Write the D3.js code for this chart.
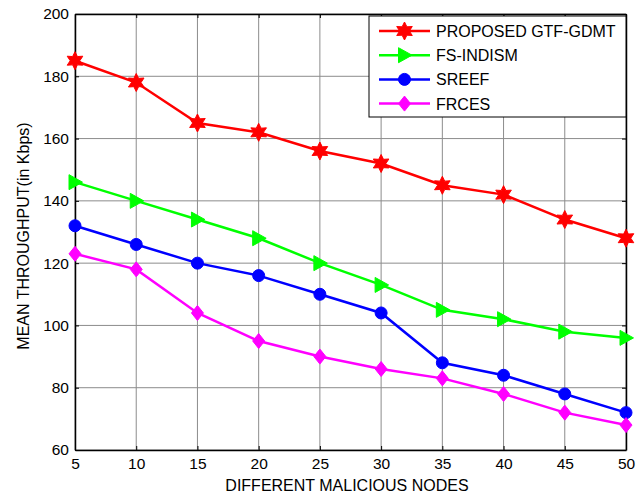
<!DOCTYPE html>
<html><head><meta charset="utf-8">
<script src="https://cdn.jsdelivr.net/npm/d3@7"></script>
<style>body{margin:0;background:#fff}svg{display:block;font-family:Arial,"Liberation Sans",sans-serif}</style>
</head><body><svg id="c" width="643" height="497"></svg>
<script>
const xValues = [5,10,15,20,25,30,35,40,45,50];
const seriesNames = ["PROPOSED GTF-GDMT","FS-INDISM","SREEF","FRCES"];
const proposed = [185,178,165,162,156,152,145,142,134,128];
const fsIndism = [146,140,134,128,120,113,105,102,98,96];
const sreef = [132,126,120,116,110,104,88,84,78,72];
const frces = [123,118,104,95,90,86,83,78,72,68];
const xTicks = [5,10,15,20,25,30,35,40,45,50];
const yTicks = [60,80,100,120,140,160,180,200];
const colors = ["#ff0000","#00ff00","#0000ff","#ff00ff"];
const markers = ["hexagram","triangleRight","circle","diamond"];
const allSeries = [proposed, fsIndism, sreef, frces];

const svg = d3.select("#c");
const L=75, R=626, T=14, B=450;
const x = d3.scaleLinear().domain([5,50]).range([L,R]);
const y = d3.scaleLinear().domain([60,200]).range([B,T]);

// grid
const g = svg.append("g");
g.selectAll(".gx").data(xTicks).enter().append("line")
 .attr("x1",d=>x(d)).attr("x2",d=>x(d)).attr("y1",T).attr("y2",B)
 .attr("stroke","#8c8c8c").attr("stroke-width",1);
g.selectAll(".gy").data(yTicks).enter().append("line")
 .attr("y1",d=>y(d)).attr("y2",d=>y(d)).attr("x1",L).attr("x2",R)
 .attr("stroke","#8c8c8c").attr("stroke-width",1);

// axes
const ax = d3.axisBottom(x).tickValues(xTicks).tickSizeInner(-4).tickSizeOuter(0).tickPadding(8);
const ay = d3.axisLeft(y).tickValues(yTicks).tickSizeInner(-4).tickSizeOuter(0).tickPadding(6);
const axT = d3.axisTop(x).tickValues(xTicks).tickSizeInner(-4).tickSizeOuter(0).tickFormat("");
const ayR = d3.axisRight(y).tickValues(yTicks).tickSizeInner(-4).tickSizeOuter(0).tickFormat("");
function style(sel){sel.select(".domain").attr("stroke","#000").attr("stroke-width",1.5);
 sel.selectAll(".tick line").attr("stroke","#000");
 sel.selectAll(".tick text").attr("font-size",15.5).attr("fill","#000").attr("font-family","Arial, 'Liberation Sans', sans-serif");}
svg.append("g").attr("transform",`translate(0,${B})`).call(ax).call(style);
svg.append("g").attr("transform",`translate(${L},0)`).call(ay).call(style);
svg.append("g").attr("transform",`translate(0,${T})`).call(axT).call(style);
svg.append("g").attr("transform",`translate(${R},0)`).call(ayR).call(style);

// marker paths
function markerPath(type){
  if(type==="hexagram"){
    const pts=[];
    for(let i=0;i<12;i++){const r=i%2===0?9:4.8;const a=-Math.PI/2+i*Math.PI/6;pts.push([r*Math.cos(a),r*Math.sin(a)]);}
    return "M"+pts.map(p=>p.join(",")).join("L")+"Z";
  }
  if(type==="triangleRight"){return `M7.5,0L-6,-7.5L-6,7.5Z`;}
  if(type==="circle"){return d3.symbol(d3.symbolCircle, Math.PI*6*6)();}
  if(type==="diamond"){return `M0,-7.5L6,0L0,7.5L-6,0Z`;}
}

const line = d3.line().x((d,i)=>x(xValues[i])).y(d=>y(d));
allSeries.forEach((vals,k)=>{
  svg.append("path").datum(vals).attr("d",line).attr("fill","none")
    .attr("stroke",colors[k]).attr("stroke-width",2.5);
  svg.selectAll(null).data(vals).enter().append("path")
    .attr("d",markerPath(markers[k]))
    .attr("transform",(d,i)=>`translate(${x(xValues[i])},${y(d)})`)
    .attr("fill",colors[k]).attr("stroke",colors[k]).attr("stroke-width",1);
});

// legend
const lg = svg.append("g");
lg.append("rect").attr("x",369).attr("y",16).attr("width",257).attr("height",101)
  .attr("fill","#fff").attr("stroke","#000").attr("stroke-width",1);
seriesNames.forEach((n,k)=>{
  const yy = 31 + k*24.2;
  lg.append("line").attr("x1",379).attr("x2",430).attr("y1",yy).attr("y2",yy)
    .attr("stroke",colors[k]).attr("stroke-width",2.5);
  lg.append("path").attr("d",markerPath(markers[k])).attr("transform",`translate(404.5,${yy})`)
    .attr("fill",colors[k]).attr("stroke",colors[k]);
  lg.append("text").attr("x",436).attr("y",yy+6).attr("font-size",16).text(n);
});

// axis titles
svg.append("text").attr("x",347).attr("y",491).attr("text-anchor","middle")
  .attr("font-size",16).text("DIFFERENT MALICIOUS NODES");
svg.append("text").attr("transform",`translate(29,236) rotate(-90)`).attr("text-anchor","middle")
  .attr("font-size",16).text("MEAN THROUGHPUT(in Kbps)");
</script></body></html>
